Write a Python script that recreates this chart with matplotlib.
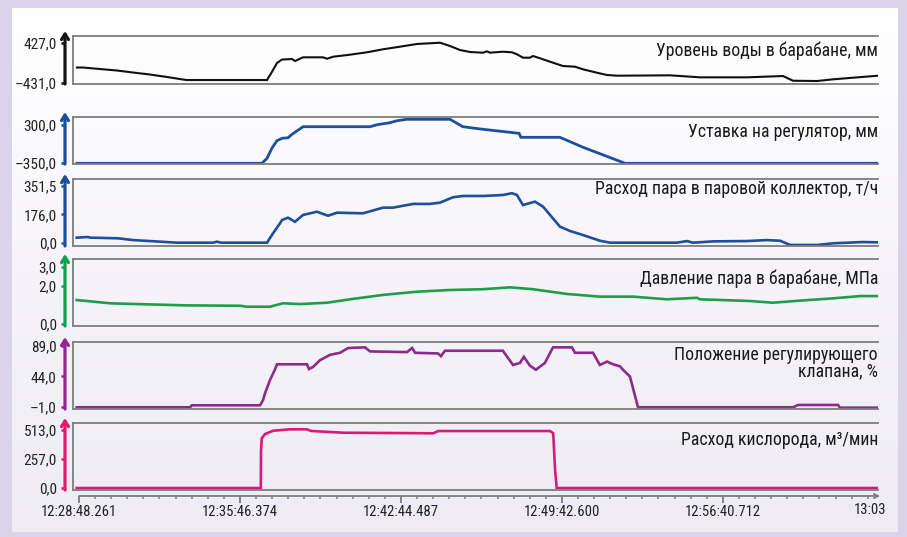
import numpy as np
import matplotlib.pyplot as plt
from matplotlib.colors import LinearSegmentedColormap
from matplotlib.transforms import ScaledTranslation

plt.rcParams['font.family'] = ['Roboto Condensed', 'PT Sans Narrow', 'Liberation Sans', 'DejaVu Sans']

# время в минутах от 12:28:48.261
level_t = [-0.09, 0.17, 0.91, 1.65, 2.34, 3.07, 3.81, 4.50, 4.68, 8.14, 8.35, 8.57, 8.79, 9.00,
           9.22, 9.35, 9.70, 10.56, 10.74, 11.00, 11.73, 12.47, 13.16, 13.90, 14.63, 15.19,
           15.63, 16.06, 16.49, 16.93, 17.49, 17.66, 17.79, 18.35, 18.74, 18.96, 19.22, 19.52,
           19.65, 19.96, 20.39, 20.95, 21.47, 21.82, 22.42, 22.86, 23.29, 25.58, 26.88, 28.92,
           30.48, 30.91, 31.95, 32.64, 33.51, 34.59]
level_v = [-99, -99, -131, -163, -206, -249, -302, -356, -367, -367, -195, -2, 73, 77,
           84, 41, 120, 120, 90, 133, 176, 228, 292, 348, 406, 421,
           433, 363, 277, 234, 219, 249, 219, 240, 228, 185, 112, 112,
           148, 99, 26, -66, -81, -137, -210, -259, -274, -266, -309, -309,
           -281, -382, -388, -352, -317, -274]

setp_t = [-0.09, 7.92, 8.14, 8.35, 8.57, 8.79, 9.05, 9.22, 9.70, 12.60, 12.90, 13.46, 13.77,
          14.20, 16.06, 16.62, 17.49, 19.05, 19.13, 20.82, 21.82, 23.64, 34.59]
setp_v = [-350, -350, -265, -95, 34, 74, 84, 142, 271, 271, 305, 339, 373,
          397, 397, 271, 227, 159, 91, 91, -78, -350, -350]

steam_t = [-0.10, 0.39, 0.48, 1.69, 2.34, 3.07, 4.24, 5.80, 5.97, 6.15, 6.67, 8.14, 8.40, 8.70,
           8.79, 9.05, 9.35, 9.70, 10.30, 10.78, 11.17, 12.29, 13.16, 13.59, 14.46, 15.19,
           15.63, 16.19, 16.62, 17.49, 18.35, 18.74, 18.96, 19.22, 19.74, 20.09, 20.82, 21.26,
           21.82, 22.55, 22.99, 25.89, 26.32, 26.58, 27.45, 28.92, 29.78, 30.35, 30.78, 31.95,
           32.64, 33.94, 34.59]
steam_v = [33, 37, 33, 29, 18, 12, 2, 2, 8, 2, 2, 2, 60, 121,
           142, 156, 131, 173, 193, 168, 187, 183, 218, 218, 241, 241,
           249, 282, 290, 290, 296, 307, 296, 234, 255, 224, 101, 74,
           49, 14, 2, 2, 12, 2, 10, 12, 18, 14, -12, -12,
           -2, 6, 4]

press_t = [-0.10, 0.17, 1.34, 2.77, 4.68, 6.97, 7.27, 8.27, 8.83, 9.57, 10.74, 11.73, 13.16,
           14.63, 16.06, 17.49, 18.66, 19.65, 21.13, 22.55, 23.98, 25.45, 26.75, 26.88, 29.05,
           30.04, 31.21, 32.64, 33.81, 34.59]
press_v = [1.26, 1.23, 1.09, 1.04, 0.98, 0.96, 0.91, 0.91, 1.09, 1.05, 1.12, 1.30, 1.53,
           1.70, 1.79, 1.83, 1.93, 1.83, 1.58, 1.44, 1.44, 1.30, 1.38, 1.30, 1.21,
           1.12, 1.23, 1.35, 1.47, 1.47]

valve_t = [-0.10, 4.81, 4.89, 7.84, 7.97, 8.05, 8.27, 8.48, 8.57, 9.87, 9.96, 10.13, 10.43,
           10.87, 11.30, 11.65, 12.38, 12.60, 14.20, 14.42, 14.55, 15.54, 15.67, 15.84, 18.35,
           18.79, 19.09, 19.26, 19.52, 19.78, 20.17, 20.52, 21.34, 21.47, 22.25, 22.55, 22.86,
           23.12, 23.42, 23.55, 23.85, 24.20, 30.91, 31.13, 32.86, 32.94, 34.59]
valve_v = [-1.4, -1.4, 1.5, 1.5, 9.4, 19, 39, 54, 62, 62, 55, 58, 68,
           76, 79, 86, 87, 81, 80, 86, 79, 78, 74, 82, 82,
           61, 64, 73, 60, 54, 64, 87, 87, 79, 79, 61, 66,
           62, 59, 54, 44, -1.4, -1.4, 2, 2, -2, -2]

oxy_t = [-0.10, 7.87, 7.88, 7.91, 8.05, 8.41, 9.13, 9.86, 10.07, 11.44, 15.34, 15.55, 20.39,
         20.53, 20.61, 20.68, 34.59]
oxy_v = [0, 0, 321, 439, 477, 507, 519, 519, 504, 489, 484, 504, 504,
         484, 159, 0, 0]

titles = ['Уровень воды в барабане, мм', 'Уставка на регулятор, мм',
          'Расход пара в паровой коллектор, т/ч', 'Давление пара в барабане, МПа',
          'Положение регулирующего\nклапана, %', 'Расход кислорода, м³/мин']
yticks = [[-431, 427], [-350, 300], [0, 176, 351.5], [0, 2, 3], [-1, 44, 89], [0, 257, 513]]
ylabels = [['–431,0', '427,0'], ['–350,0', '300,0'], ['0,0', '176,0', '351,5'],
           ['0,0', '2,0', '3,0'], ['–1,0', '44,0', '89,0'], ['0,0', '257,0', '513,0']]
xtick_labels = ['12:28:48.261', '12:35:46.374', '12:42:44.487', '12:49:42.600', '12:56:40.712']
step = 6.9685  # 6 мин 58.113 с

series = [(level_t, level_v), (setp_t, setp_v), (steam_t, steam_v),
          (press_t, press_v), (valve_t, valve_v), (oxy_t, oxy_v)]
ylims = [(-452, 577), (-362, 436), (-18.5, 394.7), (-0.105, 3.42), (-3.95, 94.9), (-17.7, 575)]
axis_colors = ['#141414', '#1b4f9e', '#1b4f9e', '#0ea24b', '#93278f', '#e8176d']
line_colors = ['#101010', '#1d4f9c', '#1d4f9c', '#1e9e48', '#8d2a8b', '#d81b77']
line_widths = [1.5, 2.0, 1.9, 1.9, 1.9, 1.9]
panel_px = [(36, 84), (117, 164), (179, 246), (259, 326), (342, 409), (423, 490)]
title_gap = [6, 6, 1, 10, 4, 8]

W, H = 907, 537
fig = plt.figure(figsize=(W / 100, H / 100), dpi=100)
fig.patch.set_facecolor('#dad4ea')

bg = fig.add_axes([12 / W, 1 - 532 / H, 886 / W, 524 / H], zorder=-5)
cmap = LinearSegmentedColormap.from_list('bg', ['#ffffff', '#f6f4fa', '#eeebf4'])
bg.imshow(np.linspace(0, 1, 256)[:, None], aspect='auto', cmap=cmap, extent=[0, 1, 0, 1])
bg.axis('off')

xmin, xmax = -0.26, 34.59
left, right = 73, 878
grey = '#7d7d7d'
txt_color = '#222222'

for i, (t, v) in enumerate(series):
    top, bot = panel_px[i]
    ax = fig.add_axes([left / W, 1 - bot / H, (right - left) / W, (bot - top) / H])
    ax.set_facecolor('none')
    ax.plot(t, v, color=line_colors[i], lw=line_widths[i], solid_joinstyle='miter')
    ax.set_xlim(xmin, xmax)
    ax.set_ylim(*ylims[i])
    ax.set_xticks([])
    for s in ['top', 'bottom']:
        ax.spines[s].set_color(grey)
        ax.spines[s].set_linewidth(1.3)
    ax.spines['right'].set_visible(False)
    ax.spines['left'].set_position(('outward', 8 * 0.72))
    ax.spines['left'].set_visible(False)
    ax.plot([0, 0], [0, 1], transform=ax.transAxes, color=grey, lw=1.3, clip_on=False)

    ax.set_yticks(yticks[i])
    ax.set_yticklabels(ylabels[i])
    ax.tick_params(axis='y', direction='out', length=3, width=1.8, color=axis_colors[i],
                   labelsize=11, labelcolor=txt_color, pad=3)

    h = bot - top
    tr = ax.transAxes + ScaledTranslation(-8 / 100, 0, fig.dpi_scale_trans)
    ax.annotate('', xy=(0, 1 + 5 / h), xycoords=tr, xytext=(0, 0), textcoords=tr,
                arrowprops=dict(arrowstyle='->,head_length=0.4,head_width=0.25',
                                color=axis_colors[i], lw=2.3, shrinkA=0, shrinkB=0),
                annotation_clip=False)

    ax.annotate(titles[i], xy=(1, 1), xycoords='axes fraction',
                xytext=(0, -title_gap[i] * 0.72), textcoords='offset points',
                ha='right', va='top', fontsize=12.8, color='#1a1a1a', linespacing=0.9,
                multialignment='right')

# ось времени
axt = fig.add_axes([left / W, 1 - 496 / H, (right - left) / W, 0.001])
axt.set_facecolor('none')
axt.set_xlim(xmin, xmax)
axt.set_yticks([])
for s in axt.spines.values():
    s.set_visible(False)
axt.set_xticks([k * step for k in range(5)])
axt.set_xticklabels(xtick_labels)
axt.set_xticks(np.arange(0, 34.6, step / 10), minor=True)
axt.tick_params(axis='x', which='major', length=5, width=1.3, color=grey, labelsize=10.6,
                labelcolor=txt_color, pad=1.5)
axt.tick_params(axis='x', which='minor', length=2.5, width=1.1, color=grey)
axt.annotate('', xy=(34.68, 0), xycoords=('data', 'axes fraction'), xytext=(0, 0),
             textcoords=('data', 'axes fraction'),
             arrowprops=dict(arrowstyle='->,head_length=0.3,head_width=0.15', color=grey,
                             lw=1.3, shrinkA=0, shrinkB=0),
             annotation_clip=False)
fig.text(886 / W, 1 - 503 / H, '13:03', ha='right', va='top', fontsize=10.6, color=txt_color)

plt.savefig('out.png', dpi=100, facecolor=fig.get_facecolor())
